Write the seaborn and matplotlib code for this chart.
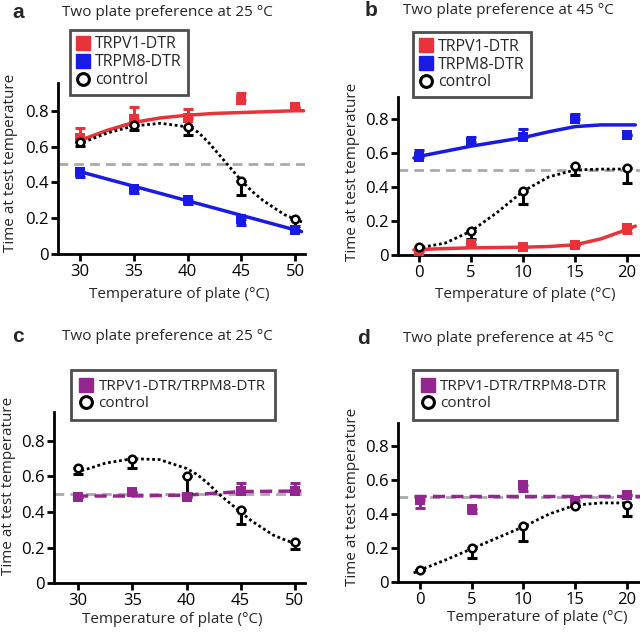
import matplotlib
matplotlib.use('agg')
import matplotlib.pyplot as plt
from matplotlib.lines import Line2D
import seaborn as sns

sns.set_style('ticks')
plt.rcParams['font.family'] = ['Open Sans', 'DejaVu Sans']

RED = '#e8333b'
BLUE = '#1a1ae6'
PURPLE = '#93278f'
GRAY = '#aaaaaa'

# ---- panel a: two plate preference at 25 C ----
temps_hot = [30, 35, 40, 45, 50]
a_trpv1 = [0.647, 0.755, 0.759, 0.858, 0.82]
a_trpv1_up = [0.056, 0.065, 0.051, 0.041, 0.0]
a_trpm8 = [0.46, 0.361, 0.30, 0.198, 0.133]
a_trpm8_dn = [0.03, 0.021, 0.02, 0.038, 0.0]
a_ctrl = [0.628, 0.72, 0.707, 0.407, 0.198]
a_ctrl_dn = [0.023, 0.03, 0.042, 0.077, 0.043]

a_fit_x = [29.8, 32.5, 35, 37.5, 40, 42.5, 45, 47.5, 50, 50.8]
a_fit_trpv1 = [0.63, 0.69, 0.735, 0.76, 0.775, 0.785, 0.79, 0.795, 0.80, 0.80]
a_line_x = [29.8, 50.6]
a_fit_trpm8 = [0.463, 0.125]
a_ctrl_fit_x = [29.8, 31, 32.5, 35, 37.5, 40, 41, 42, 43, 44, 45, 46, 47, 48, 49, 50, 50.8]
a_ctrl_fit = [0.615, 0.64, 0.675, 0.715, 0.73, 0.71, 0.68, 0.62, 0.55, 0.48, 0.41,
              0.35, 0.30, 0.26, 0.22, 0.195, 0.175]

# ---- panel b: two plate preference at 45 C ----
temps_cold = [0, 5, 10, 15, 20]
b_trpv1 = [0.025, 0.063, 0.049, 0.059, 0.16]
b_trpv1_dn = [0.0, 0.0, 0.0, 0.0, 0.033]
b_trpm8 = [0.578, 0.667, 0.696, 0.80, 0.706]
b_trpm8_up = [0.042, 0.028, 0.044, 0.03, 0.0]
b_ctrl = [0.045, 0.143, 0.378, 0.525, 0.51]
b_ctrl_dn = [0.0, 0.051, 0.078, 0.055, 0.085]

b_fit_x = [-0.5, 0, 2.5, 5, 7.5, 10, 12.5, 15, 17.5, 20, 20.8]
b_fit_trpv1 = [0.03, 0.032, 0.038, 0.042, 0.044, 0.046, 0.05, 0.06, 0.095, 0.15, 0.17]
b_fit_trpm8 = [0.57, 0.58, 0.61, 0.64, 0.665, 0.69, 0.725, 0.755, 0.765, 0.765, 0.765]
b_ctrl_fit_x = [-0.2, 2.5, 5, 7.5, 10, 12.5, 15, 17.5, 20]
b_ctrl_fit = [0.04, 0.07, 0.14, 0.25, 0.375, 0.46, 0.50, 0.505, 0.505]

# ---- panel c: double ablation, 25 C ----
c_dbl = [0.484, 0.51, 0.487, 0.519, 0.519]
c_dbl_up = [0.0, 0.0, 0.0, 0.047, 0.043]
c_ctrl = [0.646, 0.70, 0.60, 0.413, 0.231]
c_ctrl_dn = [0.032, 0.054, 0.094, 0.078, 0.041]

c_dbl_fit_x = [29.8, 35, 40, 42.5, 45, 50.6]
c_dbl_fit = [0.49, 0.49, 0.495, 0.505, 0.515, 0.518]
c_ctrl_fit_x = [29.8, 31, 32.5, 35, 37.5, 40, 41, 42, 43, 44, 45, 46, 47, 48, 49, 50.3]
c_ctrl_fit = [0.625, 0.645, 0.675, 0.70, 0.695, 0.645, 0.61, 0.56, 0.50, 0.45, 0.40,
              0.35, 0.31, 0.27, 0.245, 0.215]

# ---- panel d: double ablation, 45 C ----
d_dbl = [0.484, 0.429, 0.572, 0.474, 0.513]
d_dbl_dn = [0.049, 0.023, 0.039, 0.029, 0.0]
d_ctrl = [0.07, 0.20, 0.332, 0.445, 0.455]
d_ctrl_dn = [0.0, 0.058, 0.092, 0.0, 0.069]

d_dbl_fit_x = [-0.6, 21.3]
d_dbl_fit = [0.503, 0.503]
d_ctrl_fit_x = [-0.6, 0, 2.5, 5, 7.5, 10, 12.5, 15, 17.5, 20]
d_ctrl_fit = [0.053, 0.07, 0.13, 0.195, 0.26, 0.325, 0.40, 0.452, 0.465, 0.465]


def fit_line(ax, x, y, color, ls='-', lw=2.5):
    sns.lineplot(x=x, y=y, ax=ax, color=color, linewidth=lw, linestyle=ls,
                 sort=False, estimator=None, zorder=2)


def points(ax, x, y, lo, hi, color, kind):
    ax.errorbar(x, y, yerr=[lo, hi], fmt='none', ecolor=color, elinewidth=2.2,
                capsize=3.5, capthick=2.2, zorder=3)
    if kind == 'square':
        sns.scatterplot(x=x, y=y, ax=ax, marker='s', s=45, color=color,
                        edgecolor=color, linewidth=0, zorder=4)
    else:
        sns.scatterplot(x=x, y=y, ax=ax, marker='o', s=30, color='white',
                        edgecolor='black', linewidth=1.8, zorder=4)


def style_axes(ax, xlim, ylim, xticks):
    ax.axhline(0.5, color=GRAY, linestyle=(0, (3.5, 2.2)), linewidth=2, zorder=1)
    ax.set_xlim(*xlim)
    ax.set_ylim(*ylim)
    ax.set_xticks(xticks)
    ax.set_yticks([0, 0.2, 0.4, 0.6, 0.8])
    ax.set_yticklabels(['0', '0.2', '0.4', '0.6', '0.8'])
    for s in ['top', 'right']:
        ax.spines[s].set_visible(False)
    for s in ['left', 'bottom']:
        ax.spines[s].set_linewidth(2)
        ax.spines[s].set_color('black')
    ax.tick_params(direction='out', length=5, width=2, labelsize=12, pad=2,
                   colors='black')
    ax.set_xlabel('')
    ax.set_ylabel('')


def legend(ax, entries, anchor, fig, size, pad):
    handles = []
    for label, color, kind in entries:
        if kind == 'square':
            h = Line2D([], [], linestyle='none', marker='s', markersize=10,
                       markerfacecolor=color, markeredgecolor=color, label=label)
        else:
            h = Line2D([], [], linestyle='none', marker='o', markersize=8.5,
                       markerfacecolor='white', markeredgecolor='black',
                       markeredgewidth=2.2, label=label)
        handles.append(h)
    leg = ax.legend(handles=handles, loc='upper left', bbox_to_anchor=anchor,
                    bbox_transform=fig.transFigure, borderaxespad=0,
                    fontsize=size, frameon=True, fancybox=False, handlelength=0.8,
                    handletextpad=0.4, labelspacing=0.12, borderpad=pad)
    leg.get_frame().set_edgecolor('#222222')
    leg.get_frame().set_linewidth(2)
    return leg


fig = plt.figure(figsize=(6.4, 6.32), dpi=100)
ax_a = fig.add_axes([0.0906, 0.5981, 0.386, 0.2706])
ax_b = fig.add_axes([0.622, 0.5965, 0.378, 0.25])
ax_c = fig.add_axes([0.0844, 0.0775, 0.392, 0.2706])
ax_d = fig.add_axes([0.622, 0.0791, 0.378, 0.2516])

# panel a
fit_line(ax_a, a_fit_x, a_fit_trpv1, RED)
fit_line(ax_a, a_line_x, a_fit_trpm8, BLUE)
fit_line(ax_a, a_ctrl_fit_x, a_ctrl_fit, 'black', ls=(0, (1, 1)), lw=2)
points(ax_a, temps_hot, a_trpv1, [0] * 5, a_trpv1_up, RED, 'square')
points(ax_a, temps_hot, a_trpm8, a_trpm8_dn, [0] * 5, BLUE, 'square')
points(ax_a, temps_hot, a_ctrl, a_ctrl_dn, [0] * 5, 'black', 'circle')
style_axes(ax_a, (27.95, 50.93), (0, 0.955), temps_hot)

# panel b
fit_line(ax_b, b_fit_x, b_fit_trpv1, RED)
fit_line(ax_b, b_fit_x, b_fit_trpm8, BLUE)
fit_line(ax_b, b_ctrl_fit_x, b_ctrl_fit, 'black', ls=(0, (1, 1)), lw=2)
points(ax_b, temps_cold, b_trpv1, b_trpv1_dn, [0] * 5, RED, 'square')
points(ax_b, temps_cold, b_trpm8, [0] * 5, b_trpm8_up, BLUE, 'square')
points(ax_b, temps_cold, b_ctrl, b_ctrl_dn, [0] * 5, 'black', 'circle')
style_axes(ax_b, (-2.02, 21.25), (0, 0.929), temps_cold)

# panel c
fit_line(ax_c, c_dbl_fit_x, c_dbl_fit, PURPLE, ls=(0, (3.5, 1.8)))
fit_line(ax_c, c_ctrl_fit_x, c_ctrl_fit, 'black', ls=(0, (1, 1)), lw=2)
points(ax_c, temps_hot, c_dbl, [0] * 5, c_dbl_up, PURPLE, 'square')
points(ax_c, temps_hot, c_ctrl, c_ctrl_dn, [0] * 5, 'black', 'circle')
style_axes(ax_c, (27.76, 50.93), (0, 0.963), temps_hot)

# panel d
fit_line(ax_d, d_dbl_fit_x, d_dbl_fit, PURPLE, ls=(0, (3.5, 1.8)))
fit_line(ax_d, d_ctrl_fit_x, d_ctrl_fit, 'black', ls=(0, (1, 1)), lw=2)
points(ax_d, temps_cold, d_dbl, d_dbl_dn, [0] * 5, PURPLE, 'square')
points(ax_d, temps_cold, d_ctrl, d_ctrl_dn, [0] * 5, 'black', 'circle')
style_axes(ax_d, (-2.1, 21.26), (0, 0.935), temps_cold)

# legends
legend(ax_a, [('TRPV1-DTR', RED, 'square'), ('TRPM8-DTR', BLUE, 'square'),
              ('control', 'black', 'circle')], (0.109, 0.9525), fig, 11.5, 0.4)
legend(ax_b, [('TRPV1-DTR', RED, 'square'), ('TRPM8-DTR', BLUE, 'square'),
              ('control', 'black', 'circle')], (0.645, 0.949), fig, 11.5, 0.4)
legend(ax_c, [('TRPV1-DTR/TRPM8-DTR', PURPLE, 'square'),
              ('control', 'black', 'circle')], (0.111, 0.4146), fig, 11, 0.6)
legend(ax_d, [('TRPV1-DTR/TRPM8-DTR', PURPLE, 'square'),
              ('control', 'black', 'circle')], (0.645, 0.4146), fig, 11, 0.6)

# titles, panel letters, axis labels
titles = [('a', 0.019, 0.980, 0.262, 'Two plate preference at 25 °C'),
          ('b', 0.570, 0.983, 0.794, 'Two plate preference at 45 °C'),
          ('c', 0.019, 0.467, 0.262, 'Two plate preference at 25 °C'),
          ('d', 0.558, 0.465, 0.794, 'Two plate preference at 45 °C')]
for letter, lx, ly, tx, title in titles:
    fig.text(lx, ly, letter, fontsize=15, fontweight='bold', ha='left', va='center',
             family=['Liberation Sans', 'DejaVu Sans'])
    fig.text(tx, ly, title, fontsize=11, ha='center', va='center')

xlab = 'Temperature of plate (°C)'
ylab = 'Time at test temperature'
for x, y in [(0.280, 0.534), (0.820, 0.534), (0.269, 0.019), (0.839, 0.023)]:
    fig.text(x, y, xlab, fontsize=11, ha='center', va='center')
for x, y in [(0.016, 0.742), (0.550, 0.728), (0.014, 0.231), (0.550, 0.214)]:
    fig.text(x, y, ylab, fontsize=11, ha='center', va='center', rotation=90)

fig.savefig('out.png', dpi=100)
